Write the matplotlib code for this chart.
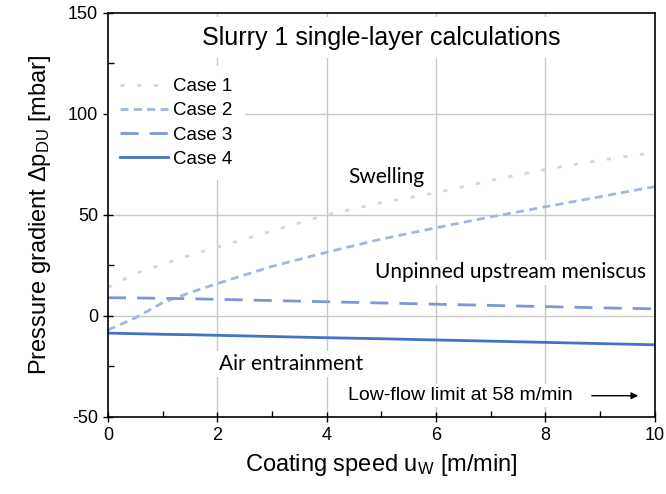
import numpy as np
import matplotlib.pyplot as plt

plt.rcParams['font.family'] = ['Liberation Sans', 'DejaVu Sans']
plt.rcParams['mathtext.default'] = 'regular'
plt.rcParams['axes.unicode_minus'] = False

# coating speed [m/min] and pressure gradient [mbar] per case
speed = [0, 0.5, 1, 1.5, 2, 3, 4, 5, 6, 7, 8, 9, 10]
case1 = [14, 21, 25.5, 30, 34, 42, 50, 56, 61, 67, 72.5, 77, 81]
case2 = [-7, -1, 6.5, 11.5, 16, 24.5, 31.5, 38, 43.6, 49, 54, 59, 64]
case3 = [9, 8.9, 8.7, 8.5, 8.2, 7.6, 7, 6.4, 5.8, 5.2, 4.6, 4, 3.5]
case4 = [-8.5, -8.8, -9.1, -9.3, -9.6, -10.2, -10.8, -11.3, -11.9, -12.5, -13.1, -13.7, -14.3]

labels = ['Case 1', 'Case 2', 'Case 3', 'Case 4']
colors = ['#c9d6ec', '#a3b6df', '#7d98d2', '#4472c4']
dashes = [(1.5, 4.5), (2.9, 1.9), (6.5, 4), None]

fig = plt.figure(figsize=(6.66, 4.94), dpi=100)
ax = fig.add_axes([0.162, 0.156, 0.821, 0.818])

for y, lab, c, d in zip([case1, case2, case3, case4], labels, colors, dashes):
	line, = ax.plot(speed, y, color=c, lw=2, label=lab, zorder=4)
	if d is not None:
		line.set_dashes(d)

ax.set_xlim(0, 10)
ax.set_ylim(-50, 150)
ax.set_xticks(np.arange(0, 11, 2))
ax.set_xticks(np.arange(1, 10, 2), minor=True)
ax.set_yticks(np.arange(-50, 151, 50))
ax.set_yticks(np.arange(-25, 150, 50), minor=True)
ax.tick_params(which='major', direction='inout', length=7, width=1, labelsize=13, top=False, right=False)
ax.tick_params(which='minor', direction='in', length=4, width=1, top=False, right=False)
for s in ax.spines.values():
	s.set_linewidth(1.2)
	s.set_zorder(6)

# grid only at the inner major ticks
for xv in [2, 4, 6, 8]:
	ax.axvline(xv, color='#c8c8c8', lw=1, zorder=0)
for yv in [0, 50, 100]:
	ax.axhline(yv, color='#c8c8c8', lw=1, zorder=0)

ax.set_xlabel('Coating speed u$_W$ [m/min]', fontsize=17, labelpad=6)
ax.set_ylabel('Pressure gradient Δp$_{DU}$ [mbar]', fontsize=17, labelpad=11)

box = dict(facecolor='white', edgecolor='none', pad=2)
calibri = ['Lato', 'DejaVu Sans']
ax.text(5.0, 137.7, 'Slurry 1 single-layer calculations', fontsize=18, ha='center', va='center',
	bbox=dict(facecolor='white', edgecolor='none', pad=6), zorder=3)
ax.text(5.1, 69, 'Swelling', family=calibri, fontsize=15, ha='center', va='center', bbox=box, zorder=3)
ax.text(7.37, 21.6, 'Unpinned upstream meniscus', family=calibri, fontsize=15, ha='center', va='center', bbox=box, zorder=3)
ax.text(3.35, -23.9, 'Air entrainment', family=calibri, fontsize=15, ha='center', va='center', bbox=box, zorder=3)
ax.text(6.44, -39.5, 'Low-flow limit at 58 m/min', fontsize=14, ha='center', va='center', bbox=box, zorder=3)
ax.annotate('', xy=(9.75, -39.5), xytext=(8.8, -39.5),
	arrowprops=dict(arrowstyle='-|>', color='black', lw=1, mutation_scale=10), zorder=3)

leg = ax.legend(loc='upper left', bbox_to_anchor=(0.0, 0.869), fontsize=13.5, frameon=True,
	fancybox=False, edgecolor='none', framealpha=1, handlelength=2.56, handletextpad=0.27,
	labelspacing=0.38, borderaxespad=0, borderpad=0.65)
leg.set_zorder(5)

fig.savefig('out.png', dpi=100)
